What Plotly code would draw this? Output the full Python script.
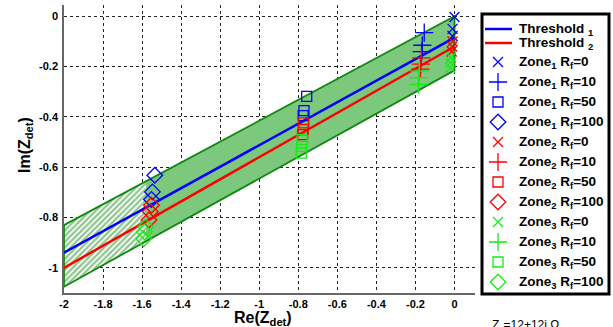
import plotly.graph_objects as go

# Threshold lines (Re, Im)
thr_x = [-2.0, 0.0]
thr1_y = [-0.94, -0.085]
thr2_y = [-1.0, -0.12]

# Protection band (parallelogram) : top edge and bottom edge
band_x = [-2.0, 0.0]
band_top = [-0.83, 0.0]
band_bot = [-1.075, -0.215]
hatch_end_x = -1.58

# Fault points per zone and fault resistance
zones = ["1", "2", "3"]
rf_vals = ["0", "10", "50", "100"]
pts = {
    ("1", "0"): ([0.0, -0.01, -0.01], [-0.003, -0.05, -0.078]),
    ("1", "10"): ([-0.155, -0.165, -0.168], [-0.065, -0.115, -0.14]),
    ("1", "50"): ([-0.757, -0.771, -0.775], [-0.318, -0.375, -0.395]),
    ("1", "100"): ([-1.535, -1.547, -1.552], [-0.632, -0.698, -0.728]),
    ("2", "0"): ([-0.01, -0.012, -0.014], [-0.1, -0.12, -0.14]),
    ("2", "10"): ([-0.17, -0.172, -0.175], [-0.165, -0.19, -0.21]),
    ("2", "50"): ([-0.772, -0.775, -0.778], [-0.424, -0.45, -0.47]),
    ("2", "100"): ([-1.552, -1.558, -1.565], [-0.751, -0.777, -0.81]),
    ("3", "0"): ([-0.018, -0.02, -0.022], [-0.164, -0.184, -0.204]),
    ("3", "10"): ([-0.18, -0.182, -0.185], [-0.218, -0.244, -0.271]),
    ("3", "50"): ([-0.78, -0.782, -0.785], [-0.49, -0.517, -0.544]),
    ("3", "100"): ([-1.582, -1.588, -1.592], [-0.837, -0.857, -0.884]),
}

x_ticks = [-2, -1.8, -1.6, -1.4, -1.2, -1, -0.8, -0.6, -0.4, -0.2, 0]
x_tick_labels = ["-2", "-1.8", "-1.6", "-1.4", "-1.2", "-1", "-0.8", "-0.6", "-0.4", "-0.2", "0"]
y_ticks = [-1, -0.8, -0.6, -0.4, -0.2, 0]
y_tick_labels = ["-1", "-0.8", "-0.6", "-0.4", "-0.2", "0"]

zone_colors = {"1": "#0000ff", "2": "#ff0000", "3": "#11ee11"}
rf_symbols = {"0": "x-thin-open", "10": "cross-thin-open", "50": "square-open", "100": "diamond-open"}
rf_sizes = {"0": 10, "10": 13, "50": 10, "100": 12}

FONT = "Liberation Sans, Arial, sans-serif"
W, H = 613, 327
ML, MR, MT, MB = 64, 3, 5, 34
PW, PH = W - ML - MR, H - MT - MB


def px(xp):
    return (xp - ML) / PW


def py(yp):
    return (H - MB - yp) / PH


fig = go.Figure()


def edge(xs, ys, xq):
    return ys[0] + (ys[1] - ys[0]) * (xq - xs[0]) / (xs[1] - xs[0])


hx0, hx1 = band_x[0], hatch_end_x
fig.add_trace(go.Scatter(
    x=[hx0, hx1, hx1, hx0, hx0],
    y=[edge(band_x, band_top, hx0), edge(band_x, band_top, hx1),
       edge(band_x, band_bot, hx1), edge(band_x, band_bot, hx0), edge(band_x, band_top, hx0)],
    fill="toself", mode="none", fillcolor="rgba(0,0,0,0)",
    fillpattern=dict(shape="/", fgcolor="#1c8a1c", bgcolor="white", size=4, solidity=0.55),
    showlegend=False, hoverinfo="skip"))
fig.add_trace(go.Scatter(
    x=[hx1, band_x[1], band_x[1], hx1, hx1],
    y=[edge(band_x, band_top, hx1), band_top[1], band_bot[1], edge(band_x, band_bot, hx1),
       edge(band_x, band_top, hx1)],
    fill="toself", mode="none", fillcolor="rgb(124,200,124)",
    showlegend=False, hoverinfo="skip"))
fig.add_trace(go.Scatter(
    x=[band_x[0], band_x[1], band_x[1], band_x[0], band_x[0]],
    y=[band_top[0], band_top[1], band_bot[1], band_bot[0], band_top[0]],
    mode="lines", line=dict(color="#118811", width=1.8),
    showlegend=False, hoverinfo="skip"))

fig.add_trace(go.Scatter(x=thr_x, y=thr1_y, mode="lines", line=dict(color="#0000ff", width=2.5),
                         showlegend=False))
fig.add_trace(go.Scatter(x=thr_x, y=thr2_y, mode="lines", line=dict(color="#ff0000", width=2.5),
                         showlegend=False))

for z in zones:
    for rf in rf_vals:
        xs, ys = pts[(z, rf)]
        fig.add_trace(go.Scatter(
            x=xs, y=ys, mode="markers", showlegend=False,
            marker=dict(symbol=rf_symbols[rf], size=rf_sizes[rf], color=zone_colors[z],
                        line=dict(color=zone_colors[z], width=1.3))))

# ---- custom legend (pixel-based helper axes) ----
leg_rows = [29, 43] + [62 + 20 * i for i in range(12)]
leg_labels = ["Threshold <sub>1</sub>", "Threshold <sub>2</sub>"] + \
    [f"Zone<sub>{z}</sub> R<sub>f</sub>={rf}" for z in zones for rf in rf_vals]
fig.add_trace(go.Scatter(x=[485, 512], y=[leg_rows[0]] * 2, mode="lines",
                         line=dict(color="#0000ff", width=2.5), xaxis="x2", yaxis="y2",
                         showlegend=False, hoverinfo="skip"))
fig.add_trace(go.Scatter(x=[485, 512], y=[leg_rows[1]] * 2, mode="lines",
                         line=dict(color="#ff0000", width=2.5), xaxis="x2", yaxis="y2",
                         showlegend=False, hoverinfo="skip"))
k = 2
for z in zones:
    for rf in rf_vals:
        fig.add_trace(go.Scatter(
            x=[498], y=[leg_rows[k]], mode="markers", xaxis="x2", yaxis="y2",
            showlegend=False, hoverinfo="skip", cliponaxis=False,
            marker=dict(symbol=rf_symbols[rf], size=rf_sizes[rf], color=zone_colors[z],
                        line=dict(color=zone_colors[z], width=1.3))))
        k += 1
for lab, r in zip(leg_labels, leg_rows):
    fig.add_annotation(text=lab, xref="x2", yref="y2", x=517, y=r, xanchor="left",
                       yanchor="middle", showarrow=False,
                       font=dict(family=FONT, size=13.5, weight="bold", color="black"))
fig.add_shape(type="rect", xref="paper", yref="paper", x0=px(482), x1=px(609),
              y0=py(294), y1=py(14), line=dict(color="black", width=3), layer="below")

axis_common = dict(showgrid=True, gridcolor="#222", griddash="dot", gridwidth=1,
                   showline=True, linecolor="#666", linewidth=1.5, zeroline=False,
                   automargin=False, ticks="",
                   tickfont=dict(family=FONT, size=11, color="black", weight="bold"))

fig.update_layout(
    width=W, height=H,
    margin=dict(l=ML, r=MR, t=MT, b=MB),
    paper_bgcolor="white", plot_bgcolor="white",
    font=dict(family=FONT, color="black"),
    showlegend=False,
    xaxis=dict(domain=[0, px(475)], range=[-2, 0.105], tickvals=x_ticks,
               ticktext=x_tick_labels, **axis_common),
    yaxis=dict(domain=[0, 1], range=[-1.1, 0.045], tickvals=y_ticks, ticktext=y_tick_labels,
               ticklabelstandoff=2, **axis_common),
    xaxis2=dict(domain=[px(481), 1.0], range=[481, 610], visible=False, anchor="y2"),
    yaxis2=dict(domain=[0, 1], range=[H - MB, MT], visible=False, anchor="x2"),
)

fig.add_annotation(text="Re(Z<sub>det</sub>)", xref="paper", yref="paper",
                   x=px(263), y=py(318), xanchor="center", yanchor="middle", showarrow=False,
                   font=dict(family=FONT, size=16, weight="bold", color="black"))
fig.add_annotation(text="Im(Z<sub>det</sub>)", xref="paper", yref="paper", textangle=-90,
                   x=px(25), y=py(145), xanchor="center", yanchor="middle", showarrow=False,
                   font=dict(family=FONT, size=16, weight="bold", color="black"))
fig.add_annotation(text="Z<sub>s</sub>=12+12j Ω", xref="paper", yref="paper",
                   x=px(525), y=py(316), xanchor="center", yanchor="top", showarrow=False,
                   font=dict(family=FONT, size=12, color="black"))

fig.write_html("out.html", config={"displayModeBar": False},
               post_script="document.body.style.margin='0';document.body.style.overflow='hidden';")
